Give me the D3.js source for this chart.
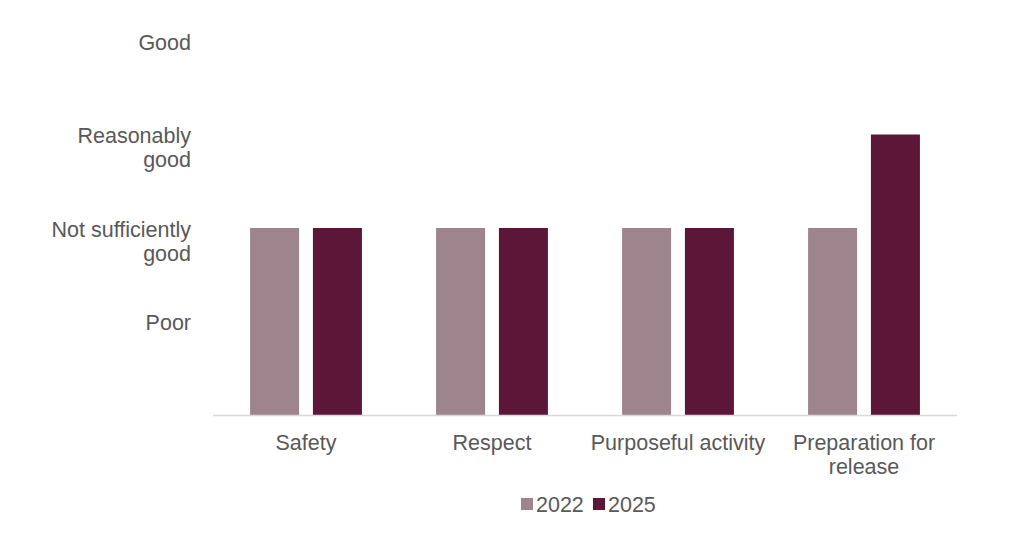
<!DOCTYPE html>
<html>
<head>
<meta charset="utf-8">
<script src="https://cdn.jsdelivr.net/npm/d3@7"></script>
<style>
  body { margin: 0; background: #fff; }
  text { font-family: "Liberation Sans", Arial, sans-serif; fill: #595959; }
</style>
</head>
<body>
<script>
// rating levels and the two inspection years
const categories = ["Safety", "Respect", "Purposeful activity", "Preparation for release"];
const years = ["2022", "2025"];
const ratings2022 = [2, 2, 2, 2];
const ratings2025 = [2, 2, 2, 3];
const levelLabels = ["Poor", "Not sufficiently good", "Reasonably good", "Good"];
const levelValues = [1, 2, 3, 4];

const color = d3.scaleOrdinal().domain(years).range(["#9e858d", "#5c1738"]);

const w = 1024;
const h = 536;
const fontSize = '21.5px';

const svg = d3.select('body')
  .append('svg')
  .attr('width', w)
  .attr('height', h);

const x = d3.scaleBand()
  .domain(categories)
  .range([213, 957]);

const inner = d3.scaleBand()
  .domain(years)
  .range([0, x.bandwidth()])
  .paddingInner(0.22)
  .paddingOuter(0.59);

const y = d3.scaleLinear()
  .domain([0, 4])
  .range([415, 41]);

const rows = categories.map((c, i) => ({ cat: c, vals: [ratings2022[i], ratings2025[i]] }));

// bars
const groups = svg.selectAll('.group')
  .data(rows)
  .enter()
  .append('g')
  .attr('class', 'group')
  .attr('transform', (d) => 'translate(' + x(d.cat) + ',0)');

groups.selectAll('rect')
  .data((d) => years.map((yr, j) => ({ yr: yr, v: d.vals[j] })))
  .enter()
  .append('rect')
  .attr('x', (d) => inner(d.yr))
  .attr('width', inner.bandwidth())
  .attr('y', (d) => y(d.v))
  .attr('height', (d) => y(0) - y(d.v))
  .style('fill', (d) => color(d.yr));

// baseline
svg.append('line')
  .attr('x1', x.range()[0])
  .attr('x2', x.range()[1])
  .attr('y1', y(0) + 0.5)
  .attr('y2', y(0) + 0.5)
  .attr('stroke', '#d9d9d9')
  .attr('stroke-width', 1.5);

// wrap long labels into two lines like the original
function splitLabel(s) {
  if (s === "Not sufficiently good") return ["Not sufficiently", "good"];
  if (s === "Reasonably good") return ["Reasonably", "good"];
  if (s === "Preparation for release") return ["Preparation for", "release"];
  return [s];
}

// y labels
const yl = svg.append('g')
  .selectAll('text')
  .data(levelValues)
  .enter()
  .append('text')
  .attr('x', 191)
  .attr('y', (d) => y(d) + 1)
  .style('text-anchor', 'end')
  .style('font-size', fontSize);

yl.selectAll('tspan')
  .data((d, i) => splitLabel(levelLabels[i]))
  .enter()
  .append('tspan')
  .attr('x', 191)
  .attr('dy', (d, i) => i === 0 ? '0.35em' : '1.12em')
  .text((d) => d);

// x labels
const xl = svg.append('g')
  .selectAll('text')
  .data(categories)
  .enter()
  .append('text')
  .attr('y', 450)
  .style('text-anchor', 'middle')
  .style('font-size', fontSize);

xl.selectAll('tspan')
  .data((d) => splitLabel(d).map((t) => ({ t: t, c: d })))
  .enter()
  .append('tspan')
  .attr('x', (d) => x(d.c) + x.bandwidth() / 2)
  .attr('dy', (d, i) => i === 0 ? 0 : '1.12em')
  .text((d) => d.t);

// legend
const legend = svg.append('g')
  .attr('id', 'legend')
  .selectAll('g')
  .data(years)
  .enter()
  .append('g')
  .attr('transform', (d, i) => 'translate(' + (521 + i * 72) + ',504)');

legend.append('rect')
  .attr('x', 0)
  .attr('y', -6)
  .attr('width', 12)
  .attr('height', 12)
  .style('fill', color);

legend.append('text')
  .attr('x', 15)
  .attr('dy', '0.35em')
  .style('font-size', fontSize)
  .text((d) => d);
</script>
</body>
</html>
